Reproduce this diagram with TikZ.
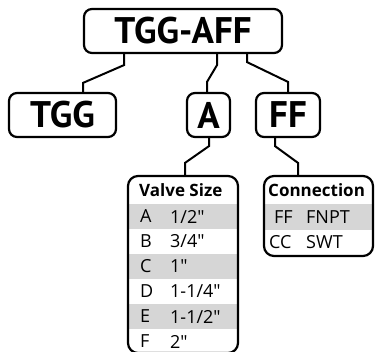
\documentclass[tikz,border=0pt]{standalone}
\usepackage{fontspec}
\newfontfamily\partfont{PT Sans}
\newfontfamily\tabfont{Open Sans}
\usetikzlibrary{positioning, calc}

\begin{document}
\begin{tikzpicture}[
    % 1. styles
    x=1pt, y=-1pt,
    partbox/.style={draw, line width=2.2pt, rounded corners=8pt, inner sep=0pt, minimum height=44, font=\partfont\fontsize{37}{40}\selectfont\bfseries},
    tablebox/.style={draw, line width=2.2pt, rounded corners=10pt, inner sep=0pt},
    rowshade/.style={fill=black!16, inner sep=0pt, minimum height=25},
    hdr/.style={font=\tabfont\fontsize{17}{20}\selectfont\bfseries, inner sep=0pt, anchor=west},
    cell/.style={font=\tabfont\fontsize{18}{20}\selectfont, inner sep=0pt, anchor=west},
    link/.style={line width=2pt}
]
    \useasboundingbox (0,0) rectangle (375,351);
    \clip (0,0) rectangle (375,351);

    % =================================================================
    % I. model number and its parts
    % =================================================================
    \node[partbox, minimum width=198] (model) at (183,31) {TGG-AFF};
    \node[partbox, minimum width=107] (series) at (62.5,115) {TGG};
    \node[partbox, minimum width=43] (size) at (208.5,115) {A};
    \node[partbox, minimum width=64] (conn) at (288,115) {FF};

    % =================================================================
    % II. option tables (shading first, border on top)
    % =================================================================
    \foreach \i/\l/\v in {1/A/{1/2"}, 2/B/{3/4"}, 3/C/{1"}, 4/D/{1-1/4"}, 5/E/{1-1/2"}, 6/F/{2"}} {
        \ifodd\i
            \node[rowshade, minimum width=108] (sizerow\i) at (183,{191.5+25*\i}) {};
        \else
            \node[inner sep=0pt, minimum width=108, minimum height=25] (sizerow\i) at (183,{191.5+25*\i}) {};
        \fi
        \node[cell] at (140,{191.5+25*\i}) {\l};
        \node[cell] at (170,{191.5+25*\i}) {\v};
    }
    \node[tablebox, minimum width=110, minimum height=177] (sizetab) at (183,264.5) {};
    \node[hdr] at (139,190) {Valve Size};

    \node[rowshade, minimum width=107, minimum height=26] (connrow1) at (318.5,217) {};
    \node[cell] at (274,217) {FF};
    \node[cell] at (306,217) {FNPT};
    \node[cell] at (269,242) {CC};
    \node[cell] at (306,242) {SWT};
    \node[tablebox, minimum width=109, minimum height=80] (conntab) at (318.5,216) {};
    \node[hdr] at (268,190) {Connection};

    % =================================================================
    % III. connectors
    % =================================================================
    \draw[link] ([xshift=-59]model.south) -- ++(0,11) -- ($([xshift=20.5]series.north)+(0,-9)$) -- ([xshift=20.5]series.north);
    \draw[link] ([xshift=34]model.south) -- ++(0,11) -- ($([xshift=-1.5]size.north)+(0,-10)$) -- ([xshift=-1.5]size.north);
    \draw[link] ([xshift=64]model.south) -- ++(0,8) -- ($(conn.north)+(0,-10)$) -- (conn.north);

    \draw[link] ([xshift=0.5]size.south) -- ++(0,8) -- ($([xshift=2]sizetab.north)+(0,-12)$) -- ([xshift=2]sizetab.north);
    \draw[link] ([xshift=-13]conn.south) -- ++(0,8) -- ($([xshift=-20.5]conntab.north)+(0,-12)$) -- ([xshift=-20.5]conntab.north);

\end{tikzpicture}
\end{document}
